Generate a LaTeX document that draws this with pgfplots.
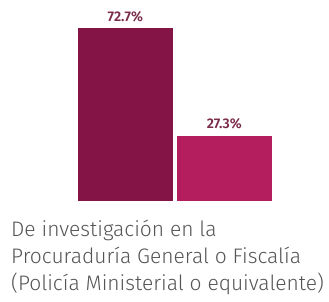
\documentclass[border=0pt]{standalone}
\usepackage{fontspec}
\setmainfont{Fira Sans Light}[BoldFont={Fira Sans SemiBold}]
\usepackage{pgfplots}
\pgfplotsset{compat=1.18}
\definecolor{barA}{HTML}{841346}
\definecolor{barB}{HTML}{B51E5E}
\definecolor{lab}{HTML}{7A2C4A}
\definecolor{txt}{HTML}{555555}
\begin{document}
\begin{tikzpicture}
\useasboundingbox (0,0) rectangle (329pt,301pt);
\begin{axis}[
  at={(0pt,100.3pt)}, anchor=south west,
  scale only axis, width=329pt, height=237.5pt,
  xmin=0, xmax=329, ymin=0, ymax=100,
  axis lines=none, ticks=none, clip=false,
  ybar, bar shift=0pt,
  /pgf/number format/assume math mode=true,
  nodes near coords={\pgfmathprintnumber[fixed,precision=1,fixed zerofill,assume math mode=true]{\pgfplotspointmeta}\%},
  every node near coord/.append style={anchor=base, yshift=7pt, font=\fontsize{14pt}{16pt}\selectfont\bfseries, text=lab},
]
\addplot[fill=barA, draw=none, bar width=94.7] coordinates {(125.35,72.7)};
\addplot[fill=barB, draw=none, bar width=95.3] coordinates {(224.35,27.3)};
\end{axis}
\begin{scope}[every node/.style={anchor=base west, inner sep=0pt, text=txt,
  font=\fontsize{21pt}{26.5pt}\selectfont}]
\node at (11pt,64.3pt) {De investigación en la};
\node at (11pt,37.7pt) {Procuraduría General o Fiscalía};
\node at (11pt,11pt) {(Policía Ministerial o equivalente)};
\end{scope}
\end{tikzpicture}
\end{document}
